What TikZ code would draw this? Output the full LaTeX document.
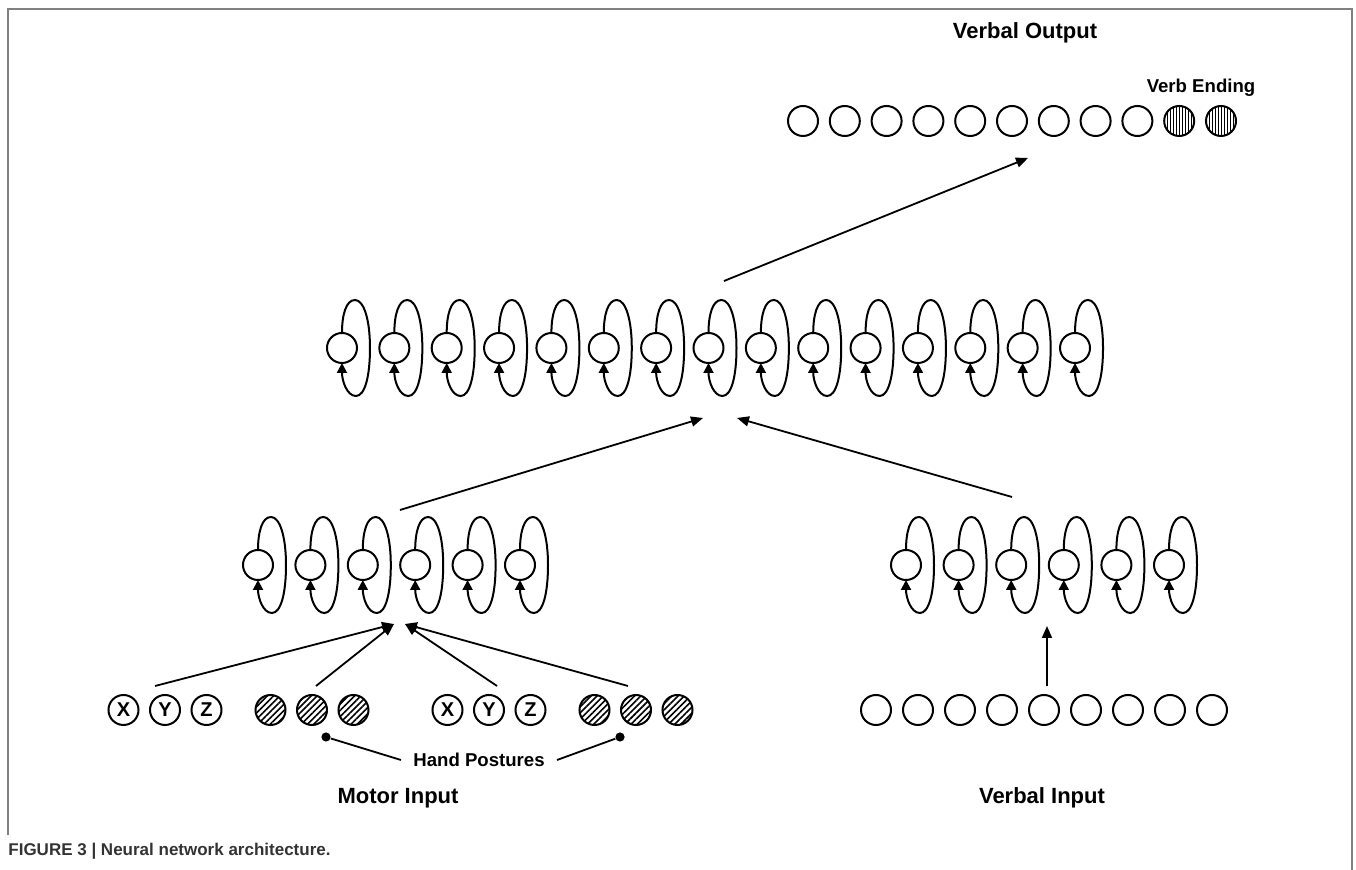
\documentclass[tikz,border=0pt]{standalone}
\usepackage{fontspec}
\setmainfont{Liberation Sans}
\usetikzlibrary{matrix,positioning,calc,arrows.meta,patterns.meta}
\definecolor{framegray}{gray}{0.5}
\definecolor{capgray}{gray}{0.2}

\begin{document}
\begin{tikzpicture}[x=0.5pt,y=-0.5pt]
    \tikzset{unit/.style={
        circle, draw, line width=1pt, minimum size=15pt, inner sep=0pt, outer sep=0pt,
        anchor=center, font=\fontsize{10}{10}\selectfont\bfseries
      },
      layer/.style={matrix of nodes, nodes in empty cells, nodes={unit}, inner sep=0pt},
      stripes/.style={pattern={Lines[angle=45,distance=2.2pt,line width=0.8pt]}},
      bars/.style={pattern={Lines[angle=90,distance=1.5pt,line width=0.45pt]}},
      recur/.style={line width=1pt, -{Triangle[length=5pt,width=5pt]}},
      feed/.style={line width=0.9pt, -{Triangle[length=6pt,width=5pt]}},
      dot/.style={circle, fill, inner sep=0pt, minimum size=4.6pt},
      title/.style={font=\fontsize{11}{13}\selectfont\bfseries},
      small/.style={font=\fontsize{9.3}{11}\selectfont\bfseries}
    }

    \useasboundingbox (0,0) rectangle (1356,870);
    \draw[framegray, line width=1pt] (8,835) -- (8,9) -- (1352,9) -- (1352,870);

    % output and hidden layers
    \matrix[layer, column sep=4.9pt,
      column 10/.style={nodes={bars}}, column 11/.style={nodes={bars}}] (O) at (1012,121)
    { &&&&&&&&&&\\ };

    \matrix[layer, column sep=10.18pt] (H) at (708.5,348) { &&&&&&&&&&&&&&\\ };
    \matrix[layer, column sep=10.2pt] (M) at (389,565) { &&&&&\\ };
    \matrix[layer, column sep=10.3pt] (V) at (1037.5,565) { &&&&&\\ };

    % input layers
    \matrix[layer, column sep=5pt] (VI) at (1044,710) { &&&&&&&&\\ };
    \matrix[layer, column sep=4.75pt,
      column 4/.style={nodes={stripes}}, column 5/.style={nodes={stripes}},
      column 6/.style={nodes={stripes}}, column 10/.style={nodes={stripes}},
      column 11/.style={nodes={stripes}}, column 12/.style={nodes={stripes}}] (MI) at (400.5,710)
    { X & Y & Z &[11.25pt] & & &[26.25pt] X & Y & Z &[11.25pt] & & \\ };

    \foreach \m/\n in {H/15,M/6,V/6}
      \foreach \i in {1,...,\n}
        \draw[recur] (\m-1-\i.north) .. controls +(0,-18) and +(-9,0) .. ++(13,-33)
          .. controls +(9,0) and +(0,-28) .. ++(15,48)
          .. controls +(0,28) and +(9,0) .. ++(-14,48)
          .. controls +(-9,0) and +(0,18) .. (\m-1-\i.south);

    \node[title] (vout) at (1025,33) {Verbal Output};
    \node[small] (vend) at (1201,88) {Verb Ending};
    \node[title] (min) at (398,798) {Motor Input};
    \node[title] (vin) at (1042,798) {Verbal Input};
    \node[small, inner xsep=6pt] (hp) at (479,760) {Hand Postures};
    \node[anchor=west, inner sep=0pt, text=capgray, font=\fontsize{8.5}{10}\selectfont\bfseries] (cap)
      at (8,851) {FIGURE 3 | Neural network architecture.};

    \node[dot] (dotL) at (326,737) {};
    \node[dot] (dotR) at (620,737) {};
    \draw[line width=0.9pt] (dotL) -- (hp.west);
    \draw[line width=0.9pt] (dotR) -- (hp.east);

    % free ends of the feed-forward connections
    \coordinate (mconvL) at (394,624);
    \coordinate (mconvR) at (405,624);
    \coordinate (fromX1) at (155,686);
    \coordinate (fromH1) at (316,686);
    \coordinate (fromX2) at (497,686);
    \coordinate (fromH2) at (628,686);
    \coordinate (mtop) at (400,510);
    \coordinate (vtop) at (1012,497);
    \coordinate (hinL) at (703,418);
    \coordinate (hinR) at (737,418);
    \coordinate (htop) at (724,281);
    \coordinate (oin) at (1028,158);
    \coordinate (vinTop) at (1047,686);
    \coordinate (vhid) at (1047,626);

    \draw[feed] (fromX1) -- (mconvL);
    \draw[feed] (fromH1) -- (mconvL);
    \draw[feed] (fromX2) -- (mconvR);
    \draw[feed] (fromH2) -- (mconvR);
    \draw[feed] (vinTop) -- (vhid);
    \draw[feed] (mtop) -- (hinL);
    \draw[feed] (vtop) -- (hinR);
    \draw[feed] (htop) -- (oin);
\end{tikzpicture}
\end{document}
